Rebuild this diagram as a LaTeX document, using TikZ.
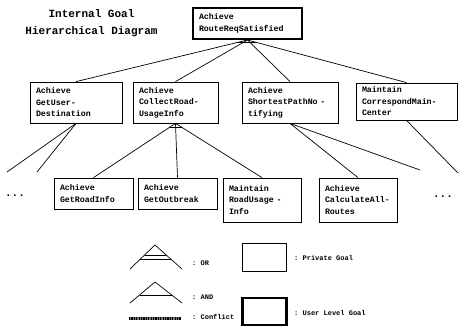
\documentclass[tikz,border=0pt]{standalone}
\usepackage{fontspec}
\setmonofont{Liberation Mono}
\usetikzlibrary{calc}
\tikzset{
  goal/.style={draw, line width=0.8pt, font=\ttfamily\bfseries\fontsize{8.3}{11.5}\selectfont,
    align=left, inner xsep=6pt, inner ysep=2pt},
  usergoal/.style={goal, line width=2pt},
  edge/.style={line width=0.7pt},
  legtext/.style={font=\ttfamily\bfseries\fontsize{7}{8}\selectfont, anchor=west, inner sep=0pt},
  dots/.style={font=\ttfamily\bfseries\fontsize{11}{11}\selectfont, inner sep=0pt}
}
\begin{document}
\begin{tikzpicture}[x=1pt,y=-1pt]
\useasboundingbox (0,0) rectangle (460,334);
% title
\node[font=\ttfamily\bfseries\fontsize{11}{17}\selectfont, align=center] (title) at (91.5,23) {Internal Goal\\Hierarchical Diagram};
% goals
\node[usergoal, text width=97pt, minimum height=31pt] (top) at (247.5,23.5) {Achieve\\RouteReqSatisfied};
\node[goal, text width=80pt, minimum height=41pt] (gud) at (76,102.5) {Achieve\\GetUser-\\Destination};
\node[goal, text width=73pt, minimum height=41pt] (crui) at (175.5,102.5) {Achieve\\CollectRoad-\\UsageInfo};
\node[goal, text width=84pt, minimum height=41pt] (spn) at (290,102.5) {Achieve\\ShortestPathNo -\\tifying};
\node[goal, text width=89pt, minimum height=37pt] (cmc) at (406.5,101.5) {Maintain\\CorrespondMain-\\Center};
\node[goal, text width=67pt, minimum height=31pt] (gri) at (93.5,193.5) {Achieve\\GetRoadInfo};
\node[goal, text width=67pt, minimum height=31pt] (gob) at (177.5,193.5) {Achieve\\GetOutbreak};
\node[goal, text width=66pt, minimum height=44pt] (rui) at (262,200) {Maintain\\RoadUsage -\\Info};
\node[goal, text width=66pt, minimum height=44pt] (car) at (358,200) {Achieve\\CalculateAll-\\Routes};
\node[dots] (dl) at (15,196) {...};
\node[dots] (dr) at (443,197) {...};
% free ends
\coordinate (f1) at (7,172);
\coordinate (f2) at (37,172);
\coordinate (f3) at (420,170);
\coordinate (f4) at (458,173);
% connectors from top
\draw[edge] (top.south) -- (gud.north);
\draw[edge] (top.south) -- (crui.north);
\draw[edge] (top.south) -- (spn.north);
\draw[edge] (top.south) -- (cmc.north);
\draw[edge] ($(top.south)!0.06!(gud.north)$) -- ($(top.south)!0.06!(cmc.north)$);
% from gud
\draw[edge] (gud.south) -- (f1);
\draw[edge] (gud.south) -- (f2);
% from crui
\draw[edge] (crui.south) -- (gri.north);
\draw[edge] (crui.south) -- (gob.north);
\draw[edge] (crui.south) -- (rui.north);
\draw[edge] ($(crui.south)!0.08!(gri.north)$) -- ($(crui.south)!0.08!(rui.north)$);
% from spn
\draw[edge] (spn.south) -- (car.north);
\draw[edge] (spn.south) -- (f3);
% from cmc
\draw[edge] (cmc.south) -- (f4);
% legend: OR
\coordinate (ora) at (155,245);
\coordinate (orl) at (130,269);
\coordinate (orr) at (182,269);
\draw[edge] (orl) -- (ora) -- (orr);
\draw[edge] ($(ora)!0.42!(orl)$) -- ($(ora)!0.42!(orr)$);
\draw[edge] ($(ora)!0.6!(orl)$) -- ($(ora)!0.6!(orr)$);
\node[legtext] (ort) at (192,263) {: OR};
% legend: AND
\coordinate (anda) at (155,282);
\coordinate (andl) at (130,303);
\coordinate (andr) at (182,303);
\draw[edge] (andl) -- (anda) -- (andr);
\draw[edge] ($(anda)!0.62!(andl)$) -- ($(anda)!0.62!(andr)$);
\node[legtext] (andt) at (192,297) {: AND};
% legend: conflict
\coordinate (c1) at (129,318);
\coordinate (c2) at (181,318);
\draw[line width=3pt, black!55] (c1) -- (c2);
\draw[line width=3pt, black, dash pattern=on 1.2pt off 1.2pt] (c1) -- (c2);
\node[legtext] (ct) at (192,317) {: Conflict};
% legend: goals
\node[draw, line width=0.8pt, minimum width=44pt, minimum height=28pt, inner sep=0pt] (pg) at (264,257) {};
\node[legtext] (pgt) at (294,258) {: Private Goal};
\node[draw, line width=2.5pt, minimum width=44pt, minimum height=27pt, inner sep=0pt] (ug) at (264.5,311.5) {};
\node[legtext] (ugt) at (294,313) {: User Level Goal};
\end{tikzpicture}
\end{document}
